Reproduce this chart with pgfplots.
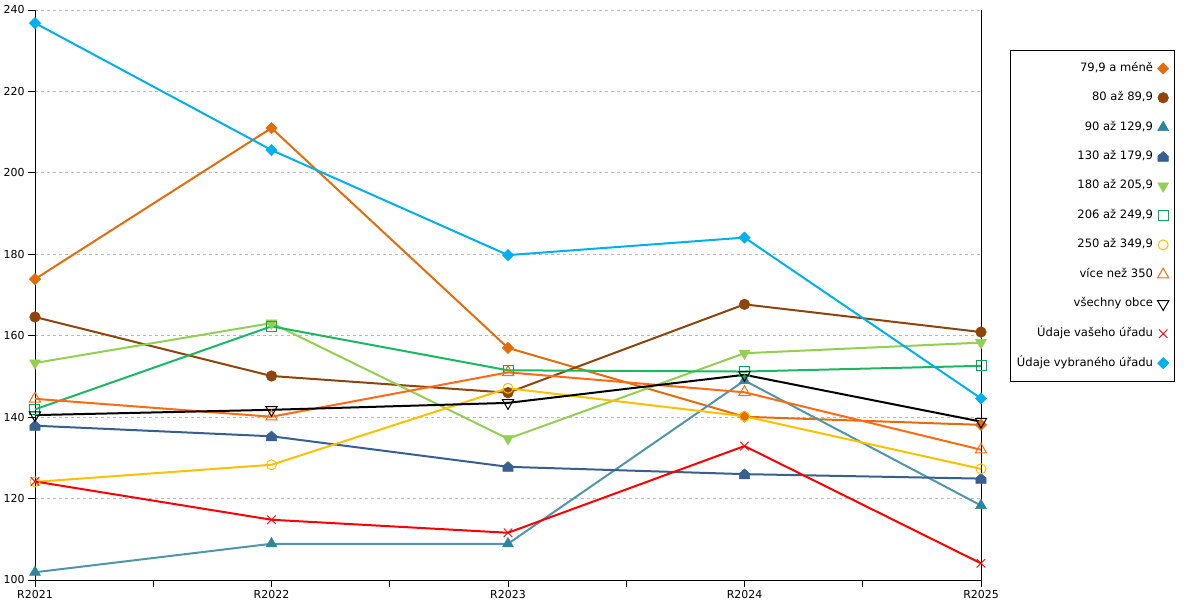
\documentclass[border=0pt]{standalone}
\usepackage{fontspec}
\setmainfont{DejaVu Sans}
\usepackage{pgfplots}
\pgfplotsset{compat=1.18}
\definecolor{cA}{HTML}{E46C0A}
\definecolor{cB}{HTML}{8E440B}
\definecolor{cC}{HTML}{31849B}
\definecolor{cD}{HTML}{376092}
\definecolor{cE}{HTML}{92D050}
\definecolor{cF}{HTML}{00B050}
\definecolor{cG}{HTML}{FFC000}
\definecolor{cH}{HTML}{FF6A13}
\definecolor{cI}{HTML}{000000}
\definecolor{cJ}{HTML}{FF0000}
\definecolor{cK}{HTML}{00B0F0}
\pgfdeclareplotmark{house}{%
  \pgfpathmoveto{\pgfpoint{-\pgfplotmarksize}{-0.9\pgfplotmarksize}}%
  \pgfpathlineto{\pgfpoint{\pgfplotmarksize}{-0.9\pgfplotmarksize}}%
  \pgfpathlineto{\pgfpoint{\pgfplotmarksize}{0.1\pgfplotmarksize}}%
  \pgfpathlineto{\pgfpoint{0pt}{\pgfplotmarksize}}%
  \pgfpathlineto{\pgfpoint{-\pgfplotmarksize}{0.1\pgfplotmarksize}}%
  \pgfpathclose\pgfusepathqfillstroke}
\begin{document}
\begin{tikzpicture}
\useasboundingbox (-35bp,-20bp) rectangle (1165bp,580bp);
\begin{axis}[
  at={(0,0)}, anchor=south west,
  scale only axis, width=946bp, height=570bp,
  xmin=0, xmax=4, ymin=100, ymax=240,
  xtick={0,1,2,3,4},
  xticklabels={R2021,R2022,R2023,R2024,R2025},
  minor xtick={0.5,1.5,2.5,3.5},
  ytick={100,120,...,240},
  axis x line*=bottom, axis y line*=left,
  axis line style={-, black, line width=0.9bp},
  tick align=outside,
  major tick length=7bp, minor tick length=7bp,
  tick style={black, line width=0.9bp},
  ymajorgrids,
  major grid style={gray!55, dash pattern=on 3bp off 3bp, line width=0.8bp},
  /pgf/number format/assume math mode=true,
  tick label style={font=\fontsize{11}{13}\selectfont},
  clip=false,
  every axis plot/.append style={line width=2bp},
  legend cell align=right,
  legend plot pos=right,
  legend image code/.code={\draw[#1, only marks] plot coordinates {(0bp,0bp)};},
  legend style={at={(1.0307,0.9298)}, anchor=north west, draw=black, line width=0.9bp,
    font=\fontsize{11.6}{13}\selectfont,
    inner xsep=6bp, inner ysep=12bp, row sep=17.3bp, column sep=4bp,
    nodes={inner sep=0.5bp, text height=8.5bp, text depth=2.5bp}},
]
\draw[black, line width=0.9bp] (rel axis cs:1,0) -- (rel axis cs:1,1);
\addplot[color=cA, mark=square*, mark size=4bp, mark options={solid, rotate=45, fill=cA, line width=0.5bp}]
 coordinates {(0,173.9) (1,211.0) (2,157.0) (3,140.1) (4,138.1)};
\addlegendentry{79,9 a méně}
\addplot[color=cB, mark=*, mark size=5.3bp, mark options={solid, fill=cB, line width=0.5bp}]
 coordinates {(0,164.6) (1,150.1) (2,146.0) (3,167.7) (4,160.9)};
\addlegendentry{80 až 89,9}
\addplot[color=cC!85!white, mark=triangle*, mark size=6.3bp, mark options={solid, draw=cC, fill=cC, line width=0.5bp}]
 coordinates {(0,101.9) (1,108.9) (2,108.9) (3,149.0) (4,118.3)};
\addlegendentry{90 až 129,9}
\addplot[color=cD, mark=house, mark size=5.2bp, mark options={solid, fill=cD, line width=0.5bp}]
 coordinates {(0,137.9) (1,135.3) (2,127.8) (3,126.0) (4,124.9)};
\addlegendentry{130 až 179,9}
\addplot[color=cE, mark=triangle*, mark size=6.3bp, mark options={solid, rotate=180, fill=cE, line width=0.5bp}]
 coordinates {(0,153.3) (1,163.1) (2,134.7) (3,155.7) (4,158.3)};
\addlegendentry{180 až 205,9}
\addplot[color=cF!90!white, mark=square, mark size=5bp, mark options={solid, draw=cF, line width=1bp}]
 coordinates {(0,141.9) (1,162.3) (2,151.5) (3,151.2) (4,152.6)};
\addlegendentry{206 až 249,9}
\addplot[color=cG, mark=o, mark size=5bp, mark options={solid, line width=1bp}]
 coordinates {(0,124.1) (1,128.3) (2,147.1) (3,140.2) (4,127.3)};
\addlegendentry{250 až 349,9}
\addplot[color=cH, mark=triangle, mark size=6.5bp, mark options={solid, line width=1bp}]
 coordinates {(0,144.5) (1,140.1) (2,151.0) (3,146.1) (4,132.0)};
\addlegendentry{více než 350}
\addplot[color=cI, mark=triangle, mark size=6.5bp, mark options={solid, rotate=180, line width=1bp}]
 coordinates {(0,140.5) (1,141.8) (2,143.5) (3,150.4) (4,138.9)};
\addlegendentry{všechny obce}
\addplot[color=cJ, mark=x, mark size=6bp, mark options={solid, line width=0.9bp}]
 coordinates {(0,124.2) (1,114.8) (2,111.6) (3,132.9) (4,104.1)};
\addlegendentry{Údaje vašeho úřadu}
\addplot[color=cK, mark=square*, mark size=4bp, mark options={solid, rotate=45, fill=cK, line width=0.5bp}]
 coordinates {(0,236.8) (1,205.6) (2,179.8) (3,184.1) (4,144.6)};
\addlegendentry{Údaje vybraného úřadu}
\end{axis}
\end{tikzpicture}
\end{document}
